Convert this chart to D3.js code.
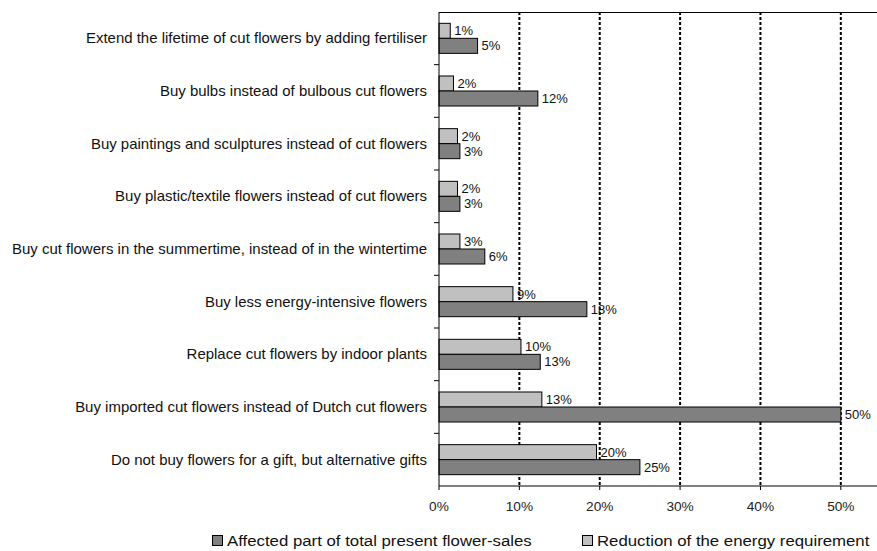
<!DOCTYPE html>
<html><head><meta charset="utf-8">
<script src="https://cdn.jsdelivr.net/npm/d3@7"></script>
<style>body{margin:0;background:#fff}svg{display:block}text{font-family:"Liberation Sans",Arial,sans-serif}</style>
</head><body>
<svg id="c" width="877" height="551"></svg>
<script>
const categories = [
  "Extend the lifetime of cut flowers by adding fertiliser",
  "Buy bulbs instead of bulbous cut flowers",
  "Buy paintings and sculptures instead of cut flowers",
  "Buy plastic/textile flowers instead of cut flowers",
  "Buy cut flowers in the summertime, instead of in the wintertime",
  "Buy less energy-intensive flowers",
  "Replace cut flowers by indoor plants",
  "Buy imported cut flowers instead of Dutch cut flowers",
  "Do not buy flowers for a gift, but alternative gifts"
];
const reduction = [1.4, 1.8, 2.3, 2.3, 2.6, 9.2, 10.2, 12.8, 19.6];
const affected  = [4.8, 12.3, 2.6, 2.6, 5.7, 18.4, 12.6, 50.0, 25.0];
const xTicks = [0, 10, 20, 30, 40, 50];
const seriesNames = ["Reduction of the energy requirement", "Affected part of total present flower-sales"];
const legendOrder = ["Affected part of total present flower-sales", "Reduction of the energy requirement"];
const colors = {"Reduction of the energy requirement": "#c0c0c0", "Affected part of total present flower-sales": "#808080"};

const svg = d3.select("#c");
const pLeft = 439, pTop = 12, pBottom = 486;
const x = d3.scaleLinear().domain([0, 55]).range([pLeft, pLeft + 442]);
const y = d3.scaleBand().domain(categories).range([pTop, pBottom]).paddingInner(0.43).paddingOuter(0.215);
const ys = d3.scaleBand().domain(seriesNames).range([0, y.bandwidth()]);

// gridlines
svg.append("g").selectAll("line").data(xTicks.filter(d => d > 0)).join("line")
  .attr("x1", d => x(d)).attr("x2", d => x(d)).attr("y1", pTop).attr("y2", pBottom)
  .attr("stroke", "#000").attr("stroke-width", 2).attr("stroke-dasharray", "3,2");

// top border
svg.append("line").attr("x1", pLeft).attr("x2", 877).attr("y1", pTop + 0.5).attr("y2", pTop + 0.5)
  .attr("stroke", "#000").attr("stroke-width", 1);

const data = [];
categories.forEach((c, i) => {
  data.push({cat: c, s: seriesNames[0], v: reduction[i]});
  data.push({cat: c, s: seriesNames[1], v: affected[i]});
});

svg.append("g").selectAll("rect").data(data).join("rect")
  .attr("x", x(0)).attr("y", d => y(d.cat) + ys(d.s))
  .attr("width", d => x(d.v) - x(0)).attr("height", ys.bandwidth())
  .attr("fill", d => colors[d.s]).attr("stroke", "#000").attr("stroke-width", 1);

svg.append("g").selectAll("text").data(data).join("text")
  .attr("x", d => x(d.v) + 4).attr("y", d => y(d.cat) + ys(d.s) + ys.bandwidth() / 2)
  .attr("dy", "0.35em").attr("font-size", 13).attr("fill", "#111")
  .text(d => Math.round(d.v) + "%");

// left axis
const yb = d3.scaleBand().domain(categories).range([pTop, pBottom]);
const gy = svg.append("g").attr("transform", `translate(${pLeft},0)`);
gy.append("line").attr("x1", 0).attr("x2", 0).attr("y1", pTop).attr("y2", pBottom).attr("stroke", "#000");
gy.selectAll("line.t").data(categories.slice(1)).join("line").attr("class", "t")
  .attr("x1", -5).attr("x2", 0).attr("y1", d => yb(d)).attr("y2", d => yb(d)).attr("stroke", "#000");
gy.selectAll("text").data(categories).join("text")
  .attr("transform", d => `translate(-12,${yb(d) + yb.bandwidth() / 2}) scale(1.07,1)`)
  .attr("dy", "0.35em")
  .attr("text-anchor", "end").attr("font-size", 14).attr("fill", "#111").text(d => d);

// bottom axis
const gx = svg.append("g").attr("transform", `translate(0,${pBottom})`);
gx.append("line").attr("x1", pLeft).attr("x2", 877).attr("stroke", "#000");
gx.selectAll("line.t").data(xTicks).join("line").attr("class", "t")
  .attr("x1", d => x(d)).attr("x2", d => x(d)).attr("y1", 0).attr("y2", 4).attr("stroke", "#000");
gx.selectAll("text").data(xTicks).join("text")
  .attr("transform", d => `translate(${x(d)},21) scale(1.14,1)`)
  .attr("dy", "0.35em").attr("text-anchor", "middle")
  .attr("font-size", 12).attr("fill", "#222").text(d => d + "%");

// legend
const lx = [212, 582];
const lg = svg.append("g").selectAll("g").data(legendOrder).join("g")
  .attr("transform", (d, i) => `translate(${lx[i]},541)`);
lg.append("rect").attr("x", 0.5).attr("y", -5.5).attr("width", 10).attr("height", 10)
  .attr("fill", d => colors[d]).attr("stroke", "#000");
lg.append("text").attr("transform", "translate(15,0) scale(1.12,1)").attr("dy", "0.35em").attr("font-size", 15)
  .attr("fill", "#111").text(d => d);
</script>
</body></html>
